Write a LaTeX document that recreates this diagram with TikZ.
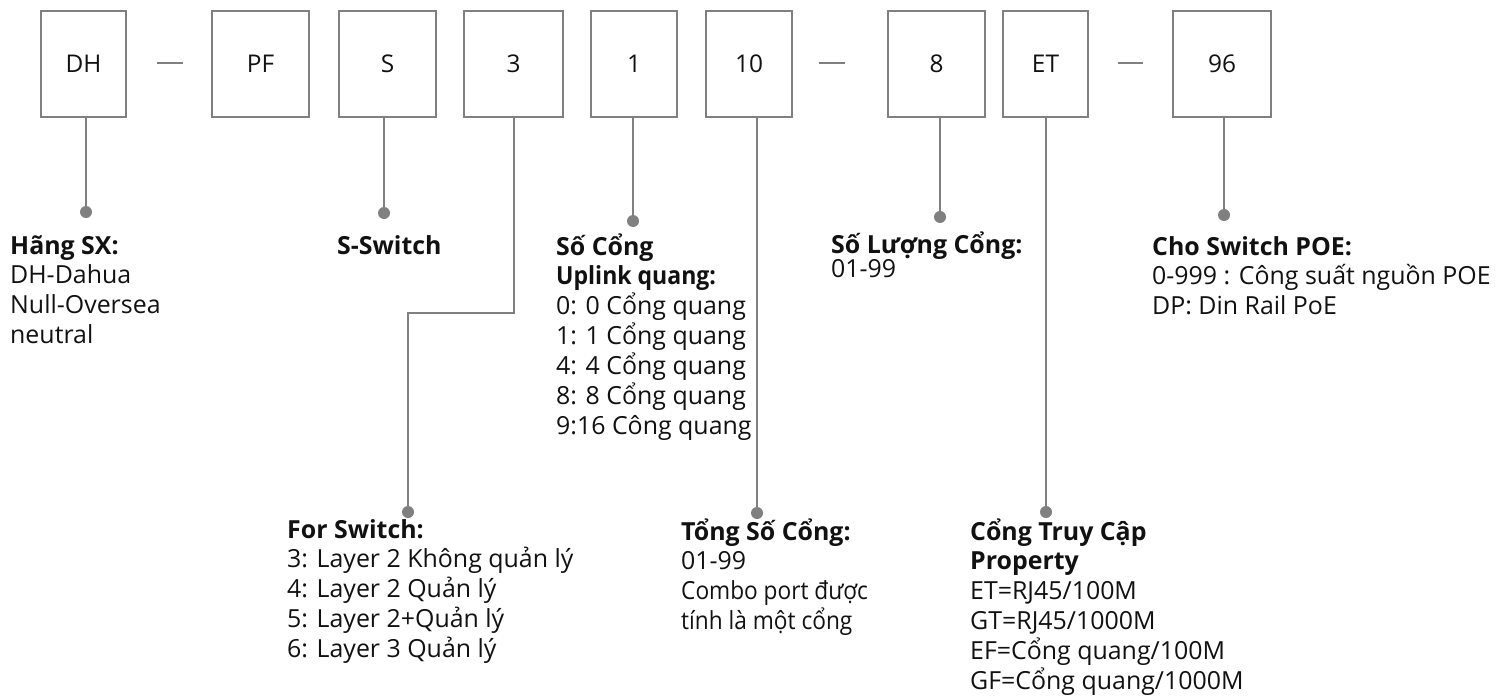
\documentclass[tikz,border=0pt]{standalone}
\usepackage{fontspec}
\usepackage{graphicx}
\setmainfont{Open Sans}
\usetikzlibrary{calc}
\definecolor{linegray}{HTML}{808080}
\definecolor{txtcol}{HTML}{111111}
\newcommand\mlines[1]{\vtop{\halign{##\hfil\cr#1\crcr}}}
\newcommand\narrow[2]{\scalebox{#1}[1]{#2}}
\begin{document}
\begin{tikzpicture}[x=1bp,y=-1bp,
  codebox/.style={draw=linegray, line width=2bp, inner sep=0pt, minimum height=106bp,
    text=txtcol, font=\fontsize{24.5}{28}\selectfont},
  txt/.style={anchor=base west, inner sep=0pt, text=txtcol,
    font=\fontsize{25}{30}\selectfont},
  conn/.style={draw=linegray, line width=2bp},
  dot/.style={circle, fill=linegray, draw=none, inner sep=0pt, minimum size=12bp},
  sep/.style={draw=linegray, line width=1.6bp}
]
\useasboundingbox (0,0) rectangle (1502,698);

% code boxes
\node[codebox, minimum width=85bp] (bDH) at (83.5,64) {DH};
\node[codebox, minimum width=97bp] (bPF) at (260.5,64) {PF};
\node[codebox, minimum width=97bp] (bS)  at (387.5,64) {S};
\node[codebox, minimum width=99bp] (b3)  at (513.5,64) {3};
\node[codebox, minimum width=86bp] (b1)  at (634,64) {1};
\node[codebox, minimum width=86bp] (b10) at (749,64) {10};
\node[codebox, minimum width=97bp] (b8)  at (936.5,64) {8};
\node[codebox, minimum width=85bp] (bET) at (1045.5,64) {ET};
\node[codebox, minimum width=98bp] (b96) at (1222,64) {96};

% separating dashes
\coordinate (s1a) at (157,63); \coordinate (s1b) at (183,63);
\coordinate (s2a) at (819,63); \coordinate (s2b) at (845,63);
\coordinate (s3a) at (1118,63); \coordinate (s3b) at (1143,63);
\draw[sep] (s1a) -- (s1b);
\draw[sep] (s2a) -- (s2b);
\draw[sep] (s3a) -- (s3b);

% dots
\node[dot] (dDH) at (86,212) {};
\node[dot] (dS)  at (384,213) {};
\node[dot] (d3)  at (408,512) {};
\node[dot] (d1)  at (633,221) {};
\node[dot] (d10) at (757,513) {};
\node[dot] (d8)  at (940,217) {};
\node[dot] (dET) at (1046,512) {};
\node[dot] (d96) at (1224,215) {};

% connectors
\draw[conn] (dDH |- bDH.south) -- (dDH);
\draw[conn] (dS |- bS.south) -- (dS);
\draw[conn] (b3.south) -- (b3.south |- 0,313) -| (d3);
\draw[conn] (d1 |- b1.south) -- (d1);
\draw[conn] (d10 |- b10.south) -- (d10);
\draw[conn] (d8 |- b8.south) -- (d8);
\draw[conn] (dET |- bET.south) -- (dET);
\draw[conn] (d96 |- b96.south) -- (d96);

% texts
\node[txt] (tDH) at (10,254) {\mlines{\textbf{Hãng SX:}\cr DH-Dahua\cr Null-Oversea\cr neutral}};
\node[txt] (tS) at (337,254) {\textbf{S-Switch}};
\node[txt] (t1) at (556,255) {\mlines{\textbf{Số Cổng}\cr \narrow{0.925}{\textbf{Uplink quang:}}\cr 0: 0 Cổng quang\cr 1: 1 Cổng quang\cr 4: 4 Cổng quang\cr 8: 8 Cổng quang\cr 9:16 Công quang}};
\node[txt] (t8) at (831,253) {\mlines{\textbf{Số Lượng Cổng:}\cr\noalign{\vskip-5bp} 01-99}};
\node[txt] (t96) at (1152,255) {\mlines{\textbf{Cho Switch POE:}\cr 0-999 : Công suất nguồn POE\cr DP: Din Rail PoE}};
\node[txt] (t3) at (287,538) {\mlines{\textbf{For Switch:}\cr 3: Layer 2 Không quản lý\cr 4: Layer 2 Quản lý\cr 5: Layer 2+Quản lý\cr 6: Layer 3 Quản lý}};
\node[txt] (t10) at (681,540) {\mlines{\textbf{Tổng Số Cổng:}\cr 01-99\cr \narrow{0.91}{Combo port được}\cr \narrow{0.91}{tính là một cổng}}};
\node[txt] (tET) at (970,540) {\mlines{\textbf{Cổng Truy Cập}\cr \textbf{Property}\cr ET=RJ45/100M\cr GT=RJ45/1000M\cr EF=Cổng quang/100M\cr GF=Cổng quang/1000M}};
\end{tikzpicture}
\end{document}
